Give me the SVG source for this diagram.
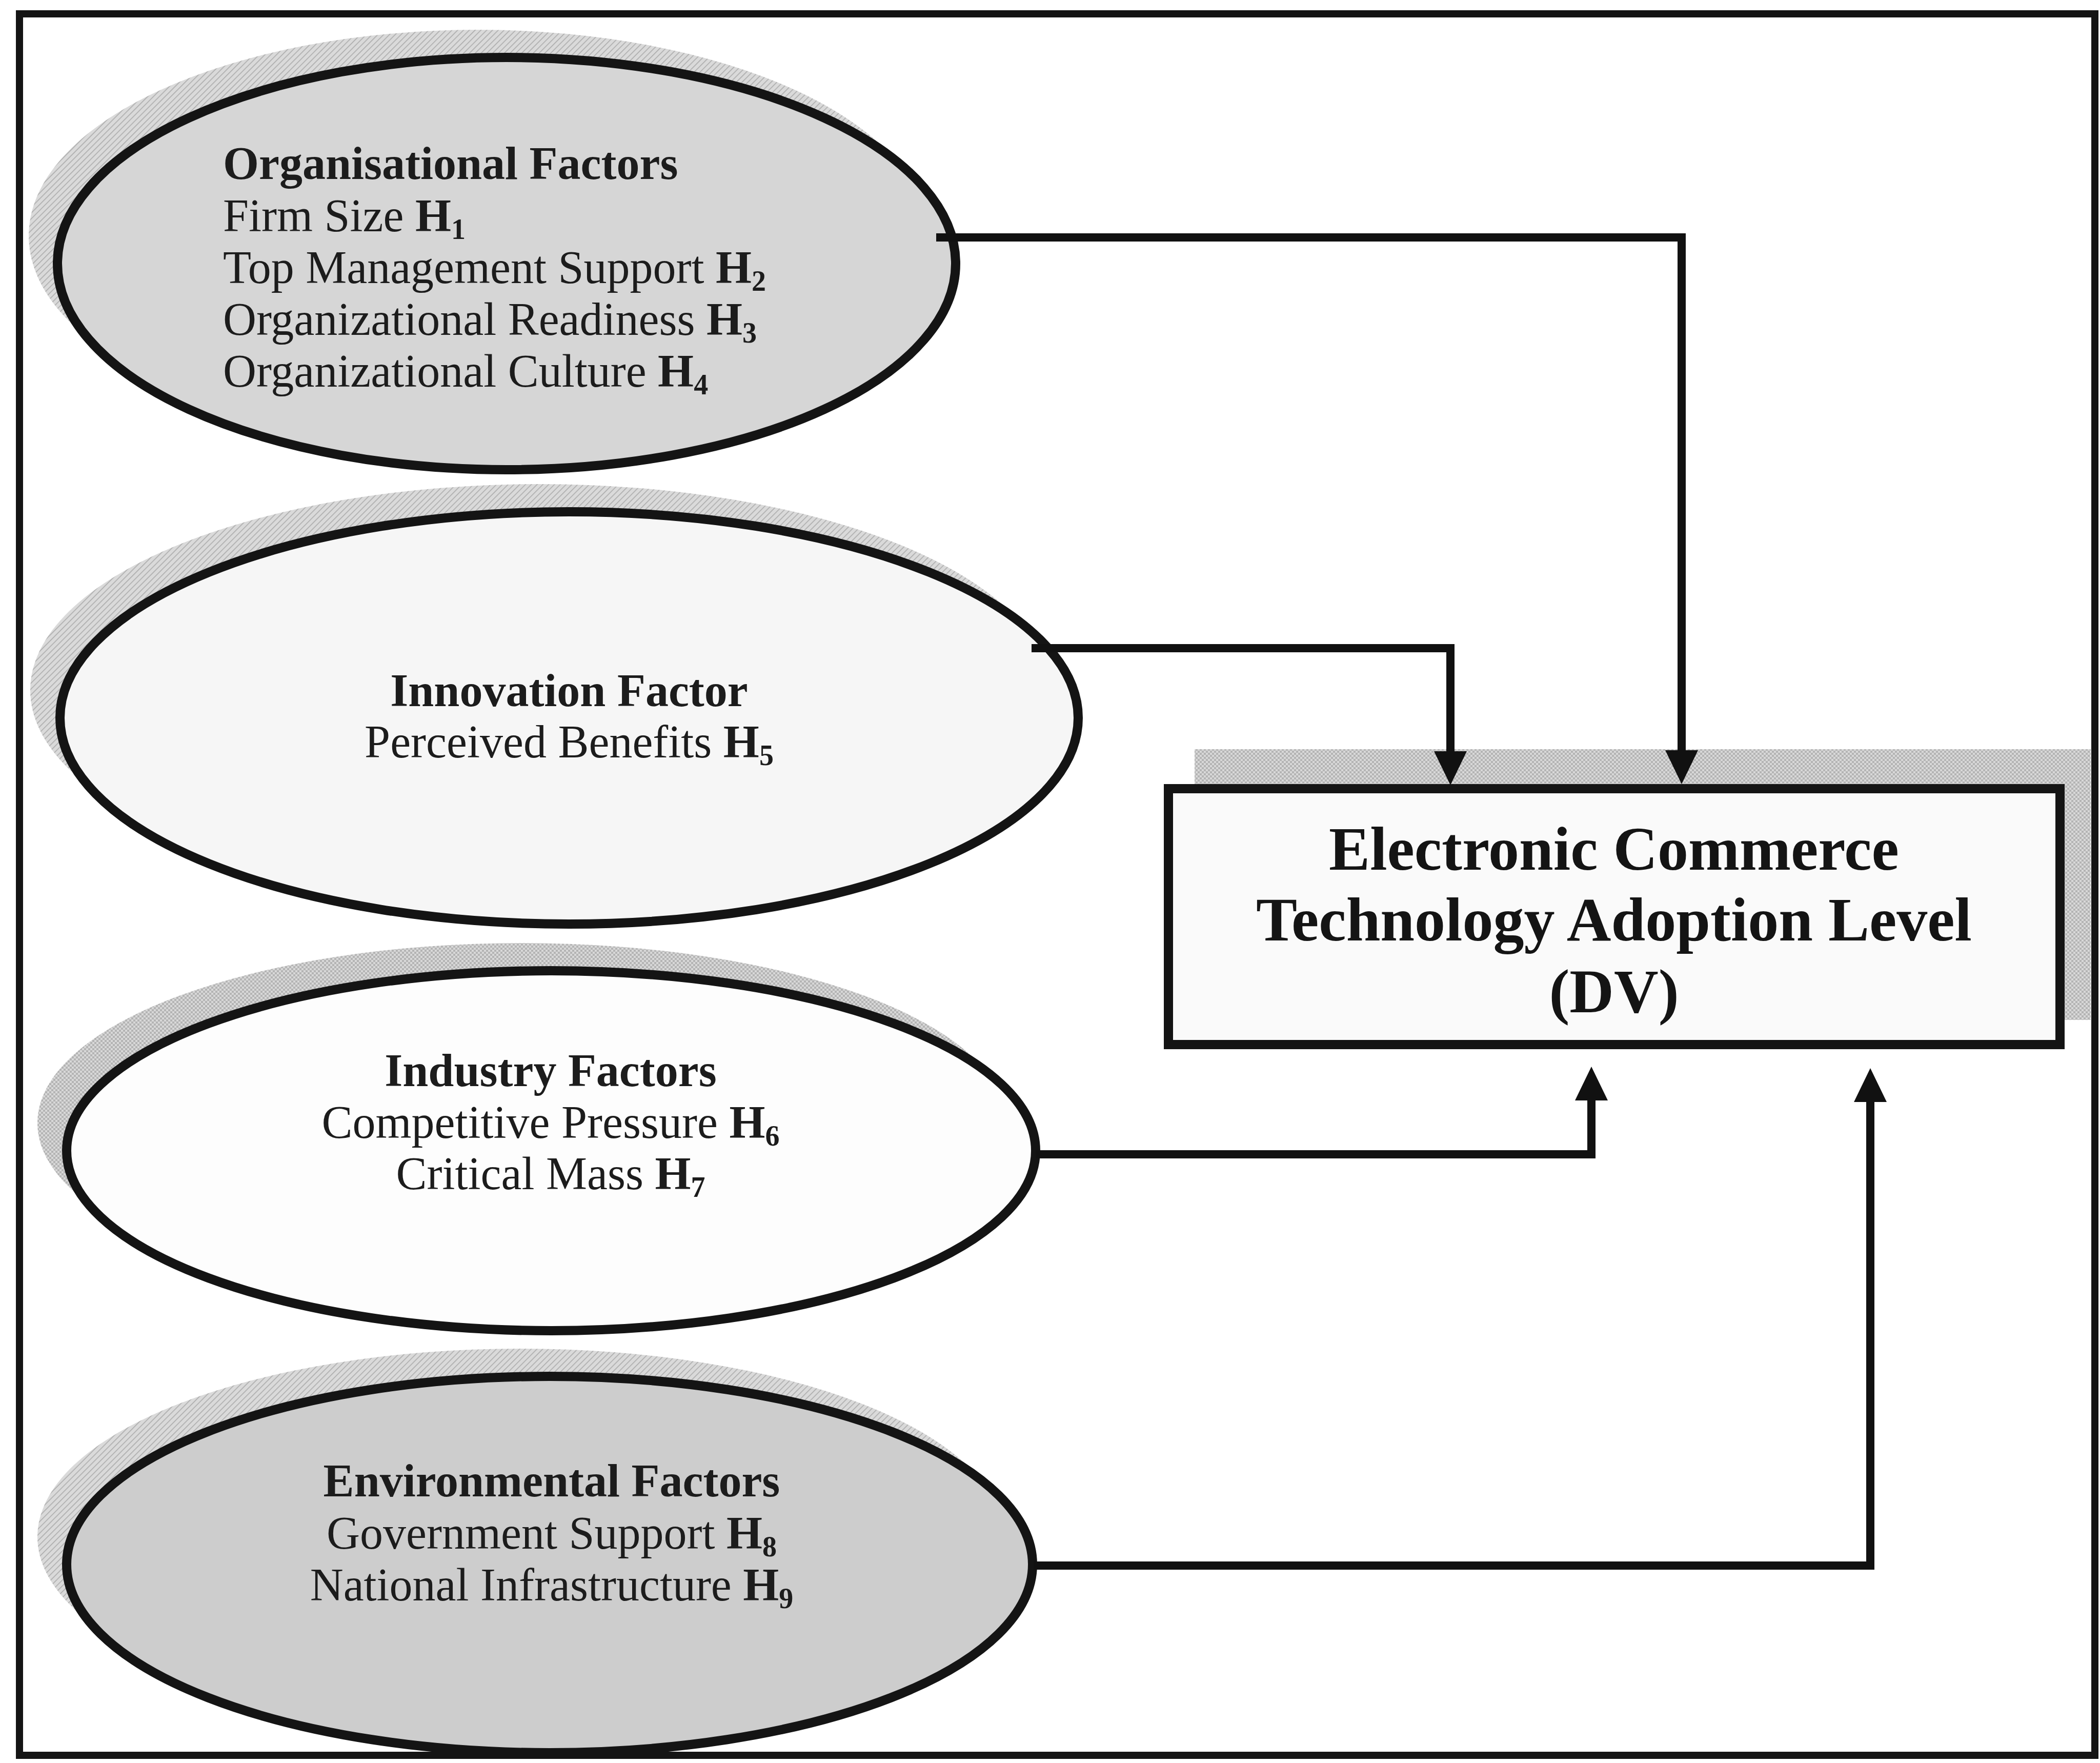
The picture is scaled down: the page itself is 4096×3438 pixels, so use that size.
<svg xmlns="http://www.w3.org/2000/svg" width="4096" height="3438" viewBox="0 0 4096 3438">
<style>
.shadow{stroke:none}
.node{stroke:#141414;stroke-width:18}
.t{font-family:"Liberation Serif","Times New Roman",serif;font-size:90px;fill:#1c1c1c}
.b{font-weight:bold}
.sub{font-weight:bold;font-size:56px}
.dv{font-family:"Liberation Serif","Times New Roman",serif;font-size:120px;font-weight:bold;fill:#141414;text-anchor:middle}
.conn{fill:none;stroke:#111;stroke-width:16;stroke-linejoin:miter}
</style>
<defs>
<pattern id="hatch" width="8" height="8" patternUnits="userSpaceOnUse" patternTransform="rotate(45)">
<rect width="8" height="8" fill="#dadada"/>
<line x1="0" y1="0" x2="0" y2="8" stroke="#a8a8a8" stroke-width="3"/>
</pattern>
<pattern id="check" width="8" height="8" patternUnits="userSpaceOnUse">
<rect width="8" height="8" fill="#d8d8d8"/>
<rect width="4" height="4" fill="#b4b4b4"/>
<rect x="4" y="4" width="4" height="4" fill="#b4b4b4"/>
</pattern>
<marker id="arr" markerUnits="userSpaceOnUse" orient="auto" refX="2" refY="0" markerWidth="70" markerHeight="70" viewBox="0 -35 70 70" overflow="visible">
<path d="M0,-32 L66,0 L0,32 z" fill="#111"/>
</marker>
</defs>
<rect x="0" y="0" width="4096" height="3438" fill="#ffffff"/>

<g id="organisational-factors">
<ellipse class="shadow" cx="932" cy="460" rx="876" ry="402" fill="url(#hatch)"/>
<ellipse class="node" cx="988" cy="514" rx="876" ry="402" fill="#d6d6d6"/>
<text class="t b" x="435" y="349">Organisational Factors</text>
<text class="t" x="435" y="451">Firm Size <tspan class="b">H</tspan><tspan class="sub" dy="15">1</tspan></text>
<text class="t" x="435" y="552">Top Management Support <tspan class="b">H</tspan><tspan class="sub" dy="15">2</tspan></text>
<text class="t" x="435" y="653">Organizational Readiness <tspan class="b">H</tspan><tspan class="sub" dy="15">3</tspan></text>
<text class="t" x="435" y="754">Organizational Culture <tspan class="b">H</tspan><tspan class="sub" dy="15">4</tspan></text>
</g>

<g id="innovation-factor">
<ellipse class="shadow" cx="1052" cy="1346" rx="993" ry="402" fill="url(#hatch)"/>
<ellipse class="node" cx="1110" cy="1400" rx="993" ry="402" fill="#f6f6f6"/>
<text class="t b" x="1110" y="1377" text-anchor="middle">Innovation Factor</text>
<text class="t" x="1110" y="1477" text-anchor="middle">Perceived Benefits <tspan class="b">H</tspan><tspan class="sub" dy="15">5</tspan></text>
</g>

<g id="industry-factors">
<ellipse class="shadow" cx="1018" cy="2190" rx="945" ry="351" fill="url(#check)"/>
<ellipse class="node" cx="1075" cy="2244" rx="945" ry="351" fill="#fdfdfd"/>
<text class="t b" x="1074" y="2118" text-anchor="middle">Industry Factors</text>
<text class="t" x="1074" y="2219" text-anchor="middle">Competitive Pressure <tspan class="b">H</tspan><tspan class="sub" dy="15">6</tspan></text>
<text class="t" x="1074" y="2319" text-anchor="middle">Critical Mass <tspan class="b">H</tspan><tspan class="sub" dy="15">7</tspan></text>
</g>

<g id="environmental-factors">
<ellipse class="shadow" cx="1015" cy="2997" rx="942" ry="367" fill="url(#hatch)"/>
<ellipse class="node" cx="1072" cy="3051" rx="942" ry="367" fill="#cdcdcd"/>
<text class="t b" x="1076" y="2918" text-anchor="middle">Environmental Factors</text>
<text class="t" x="1076" y="3020" text-anchor="middle">Government Support <tspan class="b">H</tspan><tspan class="sub" dy="15">8</tspan></text>
<text class="t" x="1076" y="3121" text-anchor="middle">National Infrastructure <tspan class="b">H</tspan><tspan class="sub" dy="15">9</tspan></text>
</g>

<g id="ec-adoption-level">
<rect class="shadow" x="2330" y="1461" width="1748" height="528" fill="url(#check)"/>
<rect class="node" x="2279" y="1538" width="1739" height="499" fill="#fafafa" stroke-width="20"/>
<text class="dv" x="3148" y="1696">Electronic Commerce</text>
<text class="dv" x="3148" y="1834">Technology Adoption Level</text>
<text class="dv" x="3148" y="1974">(DV)</text>
</g>

<g id="connectors">
<path class="conn" d="M1826,463 H3280 V1465" marker-end="url(#arr)"/>
<path class="conn" d="M2012,1264 H2829 V1467" marker-end="url(#arr)"/>
<path class="conn" d="M2020,2251 H3104 V2144" marker-end="url(#arr)"/>
<path class="conn" d="M2016,3053 H3648 V2147" marker-end="url(#arr)"/>
</g>

<g id="frame">
<rect x="38" y="27" width="4048" height="3396" fill="none" stroke="#141414" stroke-width="14"/>
</g>
</svg>
